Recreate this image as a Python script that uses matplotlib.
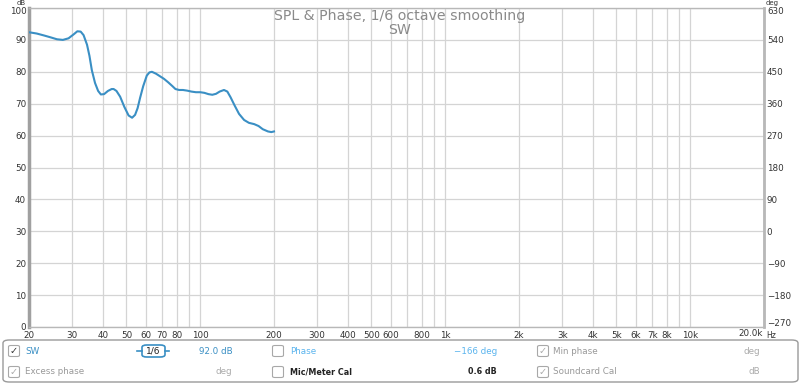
import numpy as np
import matplotlib.pyplot as plt
from matplotlib.patches import FancyBboxPatch

# SW response (Hz, dB)
freq = [20, 21.5, 23, 24.5, 26, 27.5, 29, 30.5, 31.5, 32.5, 33.4, 34.5, 35.3, 36.1, 37.2,
        38.3, 39.3, 40.5, 42, 43.5, 44.3, 45.5, 47.1, 49, 51, 52.7, 54.2, 55.5, 56.8, 58.5,
        60.5, 62, 63.5, 66, 68.5, 71.1, 74, 77, 79.2, 82, 85, 88.4, 92, 96, 100, 104,
        108, 112, 116, 120, 125, 129, 133, 138, 144, 151, 158, 166, 173, 180, 189, 195, 200]
spl = [92.4, 92.0, 91.4, 90.8, 90.2, 90.0, 90.5, 91.8, 92.7, 92.6, 91.5, 88.5, 85.0, 80.5, 76.5,
       74.0, 72.9, 73.0, 74.0, 74.6, 74.6, 74.0, 72.2, 69.0, 66.3, 65.6, 66.5, 68.6, 71.8, 75.5,
       78.8, 79.8, 80.0, 79.4, 78.6, 77.8, 76.7, 75.5, 74.6, 74.3, 74.3, 74.1, 73.8, 73.6, 73.6, 73.4,
       73.0, 72.8, 73.1, 73.8, 74.3, 73.8, 72.0, 69.5, 66.8, 64.9, 64.0, 63.6, 63.0, 62.0, 61.3, 61.1, 61.3]

db_ticks = list(range(0, 101, 10))
deg_ticks = list(range(-270, 631, 90))
grid_freqs = [20, 30, 40, 50, 60, 70, 80, 90, 100, 200, 300, 400, 500, 600, 700, 800, 900,
              1000, 2000, 3000, 4000, 5000, 6000, 7000, 8000, 9000, 10000, 20000]
label_freqs = [20, 30, 40, 50, 60, 70, 80, 100, 200, 300, 400, 500, 600, 800, 1000,
               2000, 3000, 4000, 5000, 6000, 7000, 8000, 10000]
label_text = ['20', '30', '40', '50', '60', '70', '80', '100', '200', '300', '400', '500',
              '600', '800', '1k', '2k', '3k', '4k', '5k', '6k', '7k', '8k', '10k']

LINE = '#3a8fc4'
GRID = '#d4d4d4'
TXT = '#333333'
TS = 6.3

fig = plt.figure(figsize=(8, 3.84), dpi=100)
ax = fig.add_axes([29 / 800, 1 - 327 / 384, 735 / 800, 319 / 384])
ax.set_xscale('log')
ax.set_xlim(20, 20000)
ax.set_ylim(0, 100)

for f in grid_freqs:
    ax.axvline(f, color=GRID, lw=0.9, zorder=0)
for d in db_ticks:
    ax.axhline(d, color=GRID, lw=0.9, zorder=0)

ax.plot(freq, spl, color=LINE, lw=1.5, zorder=3)

ax.set_xticks(label_freqs)
ax.set_xticklabels(label_text)
ax.xaxis.set_minor_locator(plt.NullLocator())
ax.set_yticks(db_ticks)
# top label drawn by hand below so it clears the unit text
ax.set_yticklabels([str(d) for d in db_ticks[:-1]] + [''])
ax.tick_params(axis='both', length=0, labelsize=TS, colors=TXT, pad=2)
ax.tick_params(axis='x', pad=3)

for s in ['top', 'right', 'bottom']:
    ax.spines[s].set_color('#b8b8b8')
    ax.spines[s].set_linewidth(1.0)
ax.spines['left'].set_color('#a0a0a0')
ax.spines['left'].set_linewidth(2.5)

ax2 = ax.twinx()
ax2.set_ylim(-270, 630)
ax2.set_yticks(deg_ticks)
ax2.set_yticklabels([''] + [f'{d:d}'.replace('-', '\u2212') for d in deg_ticks[1:-1]] + [''])
ax2.tick_params(axis='y', length=0, labelsize=TS, colors=TXT, pad=2)
ax2.spines['right'].set_color('#b8b8b8')
ax2.spines['right'].set_linewidth(2.0)
for s in ['top', 'left', 'bottom']:
    ax2.spines[s].set_visible(False)


def ftext(x, y, s, **kw):
    kw.setdefault('fontsize', TS)
    kw.setdefault('color', TXT)
    fig.text(x / 800, 1 - y / 384, s, **kw)


# axis end labels and units
ftext(27, 11, str(db_ticks[-1]), ha='right', va='center')
ftext(17, 0, 'dB', fontsize=5, ha='left', va='top')
ftext(767, 11, str(deg_ticks[-1]), ha='left', va='center')
ftext(766, 0, 'deg', fontsize=5, ha='left', va='top')
ftext(767, 324, f'{deg_ticks[0]}'.replace('-', '\u2212'), ha='left', va='center')
ftext(763, 334, '20.0k', ha='right', va='center')
ftext(766, 336, 'Hz', fontsize=5.5, ha='left', va='center')

ftext(400, 16, 'SPL & Phase, 1/6 octave smoothing', fontsize=10.2, color='#8a8a8a',
      ha='center', va='center')
ftext(400, 30, 'SW', fontsize=10.2, color='#8a8a8a', ha='center', va='center')

# control panel
panel = FancyBboxPatch((3 / 800, 1 - 382 / 384), 795 / 800, 42 / 384,
                       boxstyle='round,pad=0,rounding_size=0.008', transform=fig.transFigure,
                       facecolor='white', edgecolor='#9a9a9a', lw=1.0)
fig.patches.append(panel)


def checkbox(x, y, checked, col):
    w, h = 11 / 800, 11 / 384
    box = FancyBboxPatch((x / 800 - w / 2, 1 - y / 384 - h / 2), w, h,
                         boxstyle='round,pad=0,rounding_size=0.003', transform=fig.transFigure,
                         facecolor='white', edgecolor='#a8a8a8', lw=0.8)
    fig.patches.append(box)
    if checked:
        ftext(x, y, '✓', fontsize=7, color=col, ha='center', va='center')


def label(x, y, s, col, ha='left', weight='normal', size=6.3):
    ftext(x, y, s, fontsize=size, color=col, ha=ha, va='center', weight=weight)


r1, r2 = 351, 372
checkbox(14, r1, True, '#333333')
label(25, r1, 'SW', LINE)
label(233, r1, '92.0 dB', LINE, ha='right')
checkbox(278, r1, False, None)
label(290, r1, 'Phase', '#5ab4ee')
label(497, r1, '\u2212166 deg', '#5ab4ee', ha='right')
checkbox(543, r1, True, '#aaaaaa')
label(553, r1, 'Min phase', '#999999')
label(760, r1, 'deg', '#aaaaaa', ha='right')

checkbox(14, r2, True, '#aaaaaa')
label(25, r2, 'Excess phase', '#999999')
label(232, r2, 'deg', '#aaaaaa', ha='right')
checkbox(278, r2, False, None)
label(290, r2, 'Mic/Meter Cal', '#222222', weight='bold', size=5.8)
label(497, r2, '0.6 dB', '#222222', ha='right', weight='bold', size=5.8)
checkbox(543, r2, True, '#aaaaaa')
label(553, r2, 'Soundcard Cal', '#999999')
label(760, r2, 'dB', '#aaaaaa', ha='right')

# smoothing selector
sel = FancyBboxPatch((142 / 800, 1 - 357 / 384), 23 / 800, 12 / 384,
                     boxstyle='round,pad=0,rounding_size=0.006', transform=fig.transFigure,
                     facecolor='white', edgecolor=LINE, lw=1.2)
fig.patches.append(sel)
fig.add_artist(plt.Line2D([137 / 800, 142 / 800], [1 - r1 / 384] * 2, color=LINE, lw=1.2,
                          transform=fig.transFigure))
fig.add_artist(plt.Line2D([165 / 800, 169 / 800], [1 - r1 / 384] * 2, color=LINE, lw=1.2,
                          transform=fig.transFigure))
ftext(153.5, r1, '1/6', fontsize=6.5, color='#222222', ha='center', va='center')

fig.savefig('out.png', dpi=100)
